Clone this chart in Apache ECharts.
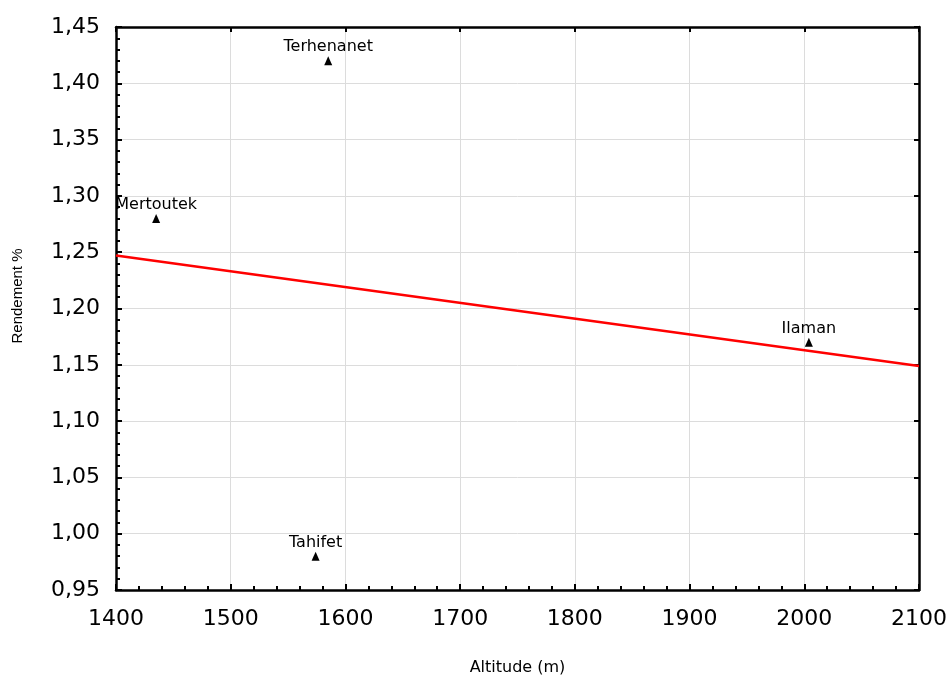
<!DOCTYPE html>
<html>
<head>
<meta charset="utf-8">
<script src="https://cdn.jsdelivr.net/npm/echarts@6/dist/echarts.min.js"></script>
<style>
  html, body { margin: 0; padding: 0; background: #fff; }
  #chart { width: 952px; height: 678px; }
</style>
</head>
<body>
<div id="chart"></div>
<script>
// sites
const sites = ['Mertoutek', 'Terhenanet', 'Tahifet', 'Ilaman'];
const altitude = [1435, 1585, 1574, 2004];
const rendement = [1.28, 1.42, 0.98, 1.17];
// fitted line ends
const fitX = [1400, 2100];
const fitY = [1.247, 1.149];

const font = 'DejaVu Sans, sans-serif';
const fontV = 'Liberation Sans, Arial, sans-serif';

function yLabel(v) {
    return v.toFixed(2).replace('.', ',');
}

const points = sites.map((s, i) => ({ name: s, value: [altitude[i], rendement[i]] }));
const fitLine = fitX.map((x, i) => [x, fitY[i]]);

const axisLine = { show: true, lineStyle: { color: '#000', width: 2.5 } };

const chart = echarts.init(document.getElementById('chart'));
chart.setOption({
    animation: false,
    backgroundColor: '#fff',
    grid: { left: 116, right: 33, top: 27, bottom: 88, containLabel: false, outerBoundsMode: 'none' },
    graphic: [{
        type: 'text',
        x: 18, y: 296,
        rotation: Math.PI / 2,
        style: { text: 'Rendement %', fontFamily: fontV, fontSize: 15, fill: '#000', align: 'center', verticalAlign: 'middle' }
    }],
    xAxis: [{
        type: 'value',
        position: 'bottom',
        min: 1400, max: 2100, interval: 100,
        name: 'Altitude (m)',
        nameLocation: 'middle',
        nameGap: 70,
        nameTextStyle: { fontFamily: font, fontSize: 16, color: '#000' },
        axisLine: axisLine,
        axisTick: { show: true, inside: true, length: 6, lineStyle: { color: '#000', width: 2 } },
        minorTick: { show: true, splitNumber: 5, length: 4, lineStyle: { color: '#000', width: 2 } },
        axisLabel: { fontFamily: font, fontSize: 22, color: '#000', margin: 18, formatter: v => String(v) },
        splitLine: { show: true, lineStyle: { color: '#dcdcdc', width: 1 } }
    }, {
        type: 'value',
        position: 'top',
        min: 1400, max: 2100, interval: 100,
        axisLine: axisLine,
        axisTick: { show: true, inside: true, length: 5, lineStyle: { color: '#000', width: 2 } },
        axisLabel: { show: false },
        splitLine: { show: false }
    }],
    yAxis: [{
        type: 'value',
        position: 'left',
        min: 0.95, max: 1.45, interval: 0.05,
        axisLine: axisLine,
        axisTick: { show: true, inside: true, length: 6, lineStyle: { color: '#000', width: 2 } },
        minorTick: { show: true, splitNumber: 5, length: 4, lineStyle: { color: '#000', width: 2 } },
        axisLabel: { fontFamily: font, fontSize: 22, color: '#000', margin: 16, formatter: yLabel },
        splitLine: { show: true, lineStyle: { color: '#dcdcdc', width: 1 } }
    }, {
        type: 'value',
        position: 'right',
        min: 0.95, max: 1.45, interval: 0.05,
        axisLine: axisLine,
        axisTick: { show: true, inside: true, length: 5, lineStyle: { color: '#000', width: 2 } },
        axisLabel: { show: false },
        splitLine: { show: false }
    }],
    series: [{
        type: 'line',
        data: fitLine,
        symbol: 'none',
        lineStyle: { color: '#ff0000', width: 2.5 },
        z: 3
    }, {
        type: 'scatter',
        data: points,
        symbol: 'triangle',
        symbolSize: [8, 9],
        itemStyle: { color: '#000', opacity: 1 },
        label: {
            show: true,
            position: 'top',
            distance: 1,
            formatter: p => p.name,
            fontFamily: font,
            fontSize: 16,
            color: '#000'
        },
        emphasis: { disabled: true },
        z: 4
    }]
});
</script>
</body>
</html>
